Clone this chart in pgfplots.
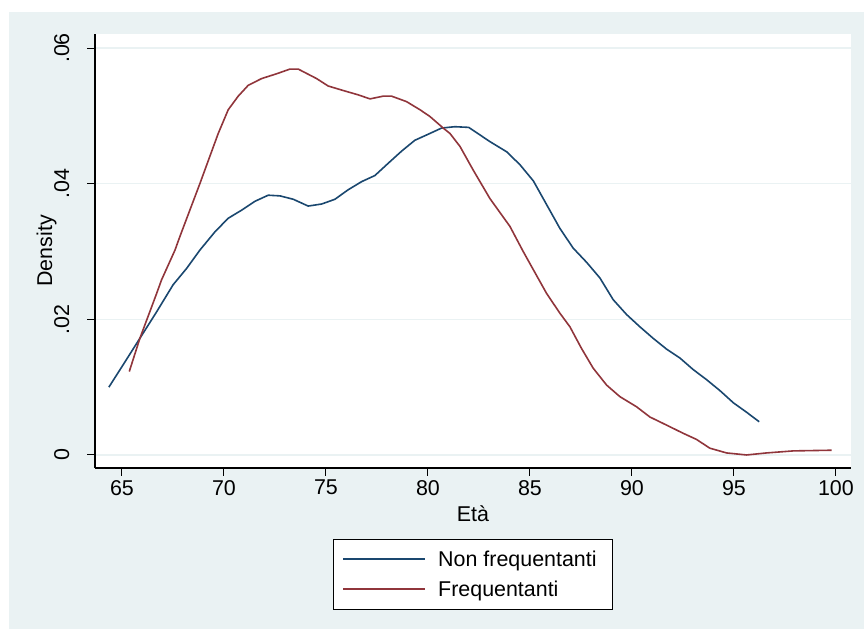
\documentclass[border=0pt]{standalone}
\usepackage{pgfplots}
\pgfplotsset{compat=1.18}
\usepackage{fontspec}
\setmainfont{Liberation Sans}
\definecolor{stnavy}{RGB}{26,71,111}
\definecolor{stmaroon}{RGB}{144,53,59}
\definecolor{ltbg}{RGB}{234,242,243}
\newcommand{\fs}{\fontsize{21.5}{25}\selectfont}
\begin{document}
\begin{tikzpicture}[x=1bp,y=1bp]
\useasboundingbox (0,0) rectangle (864,629);
\fill[ltbg] (9,0) rectangle (864,617);
\begin{axis}[
  at={(95bp,161bp)}, anchor=south west,
  scale only axis, width=756bp, height=434bp,
  xmin=63.68, xmax=100.74, ymin=-0.00192, ymax=0.06207,
  axis x line*=bottom, axis y line*=left,
  axis line style={black, line width=1.1bp, -},
  axis background/.style={fill=white},
  xtick={65,70,75,80,85,90,95,100}, xticklabels={65,70,75,80,85,90,95,100},
  ytick={0,0.02,0.04,0.06}, yticklabels={0,.02,.04,.06},
  scaled y ticks=false, scaled x ticks=false,
  /pgf/number format/assume math mode=true,
  tick align=outside, major tick length=8bp,
  tick style={black, line width=1bp},
  ymajorgrids, grid style={ltbg, line width=1.5bp},
  tick label style={font=\fs, black},
  xticklabel style={anchor=north, inner sep=0pt, yshift=-4bp},
  yticklabel style={xshift=-18bp, rotate=90, anchor=base, inner sep=0pt},
  label style={font=\fs, black},
  xlabel={Età}, ylabel={Density},
  xlabel style={at={([yshift=-54bp]axis description cs:0.5,0)}, anchor=base, inner sep=0pt},
  ylabel style={at={([xshift=-43bp]axis description cs:0,0.5)}, anchor=base, inner sep=0pt},
  legend style={at={(0.5,-0.1636)}, anchor=north, draw=black, fill=white,
    font=\fs, inner xsep=9bp, inner ysep=10bp, row sep=10bp, column sep=12bp,
    nodes={inner sep=0pt, text height=17.5bp, text depth=2.5bp}},
  every legend image post/.style={line width=1.8bp},
  legend cell align=left,
  legend image code/.code={\draw[#1, line width=1.8bp] (0bp,0bp) -- (82bp,0bp);},
]
\addplot[stnavy, line width=1.6bp] coordinates {
(64.36,0.0100) (65.06,0.0133) (65.88,0.0172) (66.70,0.0211) (67.51,0.0251)
(68.17,0.0275) (68.82,0.0302) (69.56,0.0329) (70.21,0.0349) (70.87,0.0361)
(71.52,0.0374) (72.17,0.0383) (72.75,0.0382) (73.40,0.0377) (74.13,0.0367)
(74.79,0.0370) (75.44,0.0377) (76.09,0.0391) (76.75,0.0403) (77.40,0.0412)
(78.05,0.0430) (78.71,0.0448) (79.36,0.0464) (80.02,0.0473) (80.67,0.0482)
(81.32,0.0484) (82.00,0.0483) (83.04,0.0462) (83.86,0.0447) (84.51,0.0428)
(85.17,0.0404) (85.82,0.0369) (86.47,0.0334) (87.12,0.0305) (87.78,0.0284)
(88.43,0.0261) (89.08,0.0229) (89.74,0.0207) (90.39,0.0189) (91.04,0.0172)
(91.70,0.0156) (92.35,0.0143) (93.00,0.0126) (93.66,0.0111) (94.31,0.0095)
(94.97,0.0077) (95.62,0.0063) (96.24,0.0049)
};
\addlegendentry{Non frequentanti\hspace*{7bp}}
\addplot[stmaroon, line width=1.6bp] coordinates {
(65.36,0.0123) (65.88,0.0172) (66.70,0.0238) (66.94,0.0258) (67.60,0.0302)
(67.84,0.0322) (68.82,0.0400) (69.72,0.0474) (70.21,0.0509) (70.70,0.0529)
(71.19,0.0545) (71.85,0.0555) (72.58,0.0562) (73.24,0.0569) (73.64,0.0569)
(74.54,0.0555) (75.11,0.0544) (76.00,0.0536) (76.58,0.0531) (77.16,0.0525)
(77.80,0.0529) (78.22,0.0529) (78.95,0.0521) (79.61,0.0509) (80.10,0.0499)
(80.75,0.0482) (81.08,0.0474) (81.57,0.0455) (82.22,0.0420) (83.04,0.0378)
(84.02,0.0337) (84.67,0.0300) (85.17,0.0273) (85.82,0.0238) (86.47,0.0209)
(86.96,0.0189) (87.53,0.0157) (88.10,0.0128) (88.76,0.0103) (89.41,0.0086)
(90.23,0.0071) (90.88,0.0056) (91.70,0.0044) (92.51,0.0032) (93.16,0.0023)
(93.82,0.0010) (94.64,0.0003) (95.62,0.0000) (96.60,0.0003) (97.91,0.0006)
(99.79,0.0007)
};
\addlegendentry{Frequentanti}
\end{axis}
\end{tikzpicture}
\end{document}
